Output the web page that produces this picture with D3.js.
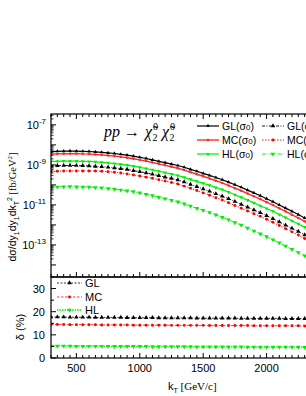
<!DOCTYPE html>
<html>
<head>
<meta charset="utf-8">
<script src="https://cdn.jsdelivr.net/npm/d3@7"></script>
<style>
body{margin:0;background:#fff}
text{font-family:"Liberation Sans",Arial,sans-serif;fill:#000}
</style>
</head>
<body>
<div id="myVis"></div>
<script>
// kT grid [GeV/c]
const kT = [300,350,400,450,500,550,600,650,700,750,800,850,900,950,1000,1050,1100,1150,1200,1250,1300,1350,1400,1450,1500,1550,1600,1650,1700,1750,1800,1850,1900,1950,2000,2050,2100,2150,2200,2250,2300,2350,2400]

// d sigma / dy dy dkT^2  [fb/GeV^2]
const glSigma0 = [4.57e-9,4.79e-9,4.90e-9,4.95e-9,4.90e-9,4.79e-9,4.68e-9,4.47e-9,4.27e-9,3.98e-9,3.72e-9,3.39e-9,3.09e-9,2.75e-9,2.40e-9,2.09e-9,1.78e-9,1.51e-9,1.29e-9,1.10e-9,9.3e-10,7.6e-10,6.0e-10,4.8e-10,3.8e-10,3.0e-10,2.34e-10,1.82e-10,1.38e-10,1.02e-10,7.6e-11,5.5e-11,4.0e-11,2.9e-11,2.04e-11,1.45e-11,1.0e-11,6.9e-12,4.8e-12,3.3e-12,2.24e-12,1.51e-12,1.02e-12]
const mcSigma0 = [3.39e-9,3.55e-9,3.63e-9,3.67e-9,3.63e-9,3.55e-9,3.47e-9,3.31e-9,3.16e-9,2.95e-9,2.75e-9,2.51e-9,2.29e-9,2.04e-9,1.78e-9,1.55e-9,1.32e-9,1.12e-9,9.5e-10,8.1e-10,6.8e-10,5.5e-10,4.3e-10,3.4e-10,2.7e-10,2.1e-10,1.62e-10,1.26e-10,9.3e-11,6.9e-11,5.1e-11,3.7e-11,2.7e-11,1.95e-11,1.38e-11,9.8e-12,6.8e-12,4.7e-12,3.2e-12,2.24e-12,1.51e-12,1.02e-12,6.9e-13]
const hlSigma0 = [1.45e-9,1.51e-9,1.55e-9,1.57e-9,1.55e-9,1.51e-9,1.48e-9,1.41e-9,1.35e-9,1.26e-9,1.17e-9,1.07e-9,9.8e-10,8.7e-10,7.6e-10,6.6e-10,5.6e-10,4.8e-10,4.1e-10,3.5e-10,2.95e-10,2.4e-10,1.9e-10,1.51e-10,1.2e-10,9.5e-11,7.4e-11,5.8e-11,4.4e-11,3.2e-11,2.4e-11,1.74e-11,1.26e-11,9.1e-12,6.6e-12,4.8e-12,3.3e-12,2.34e-12,1.62e-12,1.12e-12,7.8e-13,5.2e-13,3.5e-13]
const glSigma = [8.7e-10,9.1e-10,9.3e-10,9.4e-10,9.3e-10,9.1e-10,8.9e-10,8.5e-10,8.1e-10,7.6e-10,7.1e-10,6.5e-10,5.9e-10,5.2e-10,4.6e-10,4.0e-10,3.4e-10,2.9e-10,2.45e-10,2.1e-10,1.78e-10,1.4e-10,1.07e-10,8.2e-11,6.3e-11,4.8e-11,3.6e-11,2.75e-11,2.04e-11,1.48e-11,1.07e-11,7.8e-12,5.6e-12,4.1e-12,2.9e-12,2.04e-12,1.41e-12,9.8e-13,6.8e-13,4.7e-13,3.2e-13,2.14e-13,1.45e-13]
const mcSigma = [4.6e-10,4.8e-10,4.9e-10,5.0e-10,5.0e-10,5.0e-10,5.0e-10,4.9e-10,4.8e-10,4.6e-10,4.3e-10,3.9e-10,3.55e-10,3.16e-10,2.8e-10,2.45e-10,2.14e-10,1.82e-10,1.55e-10,1.32e-10,1.12e-10,8.7e-11,6.8e-11,5.2e-11,4.0e-11,3.05e-11,2.3e-11,1.74e-11,1.29e-11,9.3e-12,6.8e-12,5.0e-12,3.6e-12,2.7e-12,1.91e-12,1.35e-12,9.3e-13,6.5e-13,4.5e-13,3.1e-13,2.1e-13,1.41e-13,9.5e-14]
const hlSigma = [7.6e-11,7.9e-11,8.1e-11,8.2e-11,8.1e-11,7.9e-11,7.8e-11,7.4e-11,7.1e-11,6.6e-11,6.2e-11,5.6e-11,5.1e-11,4.6e-11,4.0e-11,3.4e-11,2.9e-11,2.4e-11,2.04e-11,1.7e-11,1.41e-11,1.12e-11,8.7e-12,6.8e-12,5.4e-12,4.2e-12,3.2e-12,2.4e-12,1.82e-12,1.32e-12,9.8e-13,6.9e-13,5.0e-13,3.6e-13,2.6e-13,1.82e-13,1.26e-13,8.7e-14,6.0e-14,4.2e-14,2.9e-14,1.95e-14,1.32e-14]

// delta (%)
const deltaGL = [17.7,17.7,17.7,17.6,17.6,17.6,17.6,17.5,17.5,17.5,17.5,17.5,17.4,17.4,17.4,17.4,17.4,17.3,17.3,17.3,17.3,17.3,17.3,17.2,17.2,17.2,17.2,17.2,17.2,17.2,17.1,17.1,17.1,17.1,17.1,17.1,17.1,17.0,17.0,17.0,17.0,17.0,17.0]
const deltaMC = [14.5,14.5,14.5,14.4,14.4,14.4,14.4,14.4,14.3,14.3,14.3,14.3,14.3,14.2,14.2,14.2,14.2,14.2,14.2,14.1,14.1,14.1,14.1,14.1,14.1,14.0,14.0,14.0,14.0,14.0,14.0,14.0,13.9,13.9,13.9,13.9,13.9,13.9,13.9,13.9,13.8,13.8,13.8]
const deltaHL = [5.2,5.2,5.2,5.2,5.1,5.1,5.1,5.1,5.1,5.1,5.0,5.0,5.0,5.0,5.0,5.0,4.9,4.9,4.9,4.9,4.9,4.9,4.9,4.8,4.8,4.8,4.8,4.8,4.8,4.8,4.8,4.7,4.7,4.7,4.7,4.7,4.7,4.7,4.7,4.7,4.6,4.6,4.6]

const xTicks = [500,1000,1500,2000]
const topTickExp = [-7,-9,-11,-13]
const botTicks = [0,10,20,30]

const W = 306, H = 396
const L = 51, R = 330, T = 114, MID = 277, B = 358

const svg = d3.select("#myVis").append("svg")
    .attr("width", W).attr("height", H)
    .style("background-color", "white")

const x = d3.scaleLinear().domain([300, 2500]).range([L, R])
const yTop = d3.scaleLog().domain([2.5e-15, 3.5e-7]).range([MID, T])
const yBot = d3.scaleLinear().domain([0, 35]).range([B, MID])

const red = "#ff0000", green = "#00ee00"
const topSeries = [
    {name:"GL", vals:glSigma0, color:"#000", dash:null, w:1.2, up:true, s:6, col:0, row:0},
    {name:"MC", vals:mcSigma0, color:"#ff2a2a", dash:null, w:1.4, up:null, s:5, col:0, row:1},
    {name:"HL", vals:hlSigma0, color:green, dash:null, w:1.2, up:false, s:6, col:0, row:2},
    {name:"GL", vals:glSigma, color:"#000", dash:"3,1.5,1,1.5", w:0.9, up:true, s:9, col:1, row:0},
    {name:"MC", vals:mcSigma, color:red, dash:"1.5,1.5", w:0.9, up:null, s:7, col:1, row:1},
    {name:"HL", vals:hlSigma, color:green, dash:"4,1.5,1,1.5", w:0.9, up:false, s:9, col:1, row:2}
]
const botSeries = [
    {name:"GL", vals:deltaGL, color:"#000", dash:"2,1.5", w:0.8, up:true, s:9},
    {name:"MC", vals:deltaMC, color:red, dash:"2.5,1.5", w:0.8, up:null, s:7},
    {name:"HL", vals:deltaHL, color:green, dash:"1.5,1", w:1.3, up:false, s:9}
]

const sym = (d) => {
    if (d.up === null) return d3.symbol(d3.symbolCircle, d.s)()
    return d3.symbol(d3.symbolTriangle, d.s)()
}
const rot = (d) => d.up === false ? " rotate(180)" : ""

const clip = svg.append("defs")
clip.append("clipPath").attr("id", "cTop").append("rect")
    .attr("x", L).attr("y", T).attr("width", R - L).attr("height", MID - T)
clip.append("clipPath").attr("id", "cBot").append("rect")
    .attr("x", L).attr("y", MID).attr("width", R - L).attr("height", B - MID)

const drawSeries = (s, yScale, clipId) => {
    const g = svg.append("g").attr("clip-path", "url(#" + clipId + ")")
    const pts = kT.map((k, i) => [k, s.vals[i]])
    g.append("path")
        .attr("d", d3.line().x(d => x(d[0])).y(d => yScale(d[1]))(pts))
        .attr("fill", "none").attr("stroke", s.color)
        .attr("stroke-width", s.w).attr("stroke-dasharray", s.dash)
    g.selectAll("path.m").data(pts).enter().append("path")
        .attr("class", "m")
        .attr("d", sym(s))
        .attr("transform", d => "translate(" + x(d[0]) + "," + yScale(d[1]) + ")" + rot(s))
        .attr("fill", s.color)
}
topSeries.forEach(s => drawSeries(s, yTop, "cTop"))
botSeries.forEach(s => drawSeries(s, yBot, "cBot"))

// frames
svg.append("rect").attr("x", L).attr("y", T).attr("width", R - L).attr("height", MID - T)
    .attr("fill", "none").attr("stroke", "#000").attr("stroke-width", 1.2)
svg.append("rect").attr("x", L).attr("y", MID).attr("width", R - L).attr("height", B - MID)
    .attr("fill", "none").attr("stroke", "#000").attr("stroke-width", 1.2)

// x ticks (inward) on each horizontal edge
const minorX = d3.range(300, 2501, 50)
const edges = [[T, 1], [MID, -1], [B, -1]]
edges.forEach(([yy, dir]) => {
    svg.append("g").selectAll("line").data(minorX).enter().append("line")
        .attr("x1", d => x(d)).attr("x2", d => x(d))
        .attr("y1", yy).attr("y2", d => yy + dir * (d % 500 === 0 ? 5 : 3))
        .attr("stroke", "#000").attr("stroke-width", 1)
})
svg.append("g").selectAll("text").data(xTicks).enter().append("text")
    .attr("x", d => x(d)).attr("y", B + 14)
    .attr("text-anchor", "middle").attr("font-size", 11)
    .text(d => d)

// top y axis (log)
const decades = d3.range(-14, -6)
const minorY = []
decades.forEach(e => { for (let m = 2; m <= 9; m++) minorY.push(m * Math.pow(10, e)) })
svg.append("g").selectAll("line").data(minorY.filter(v => v > 2.5e-15 && v < 3.5e-7)).enter().append("line")
    .attr("x1", L).attr("x2", L + 2.5)
    .attr("y1", d => yTop(d)).attr("y2", d => yTop(d))
    .attr("stroke", "#000").attr("stroke-width", 0.8)
svg.append("g").selectAll("line").data(decades).enter().append("line")
    .attr("x1", L).attr("x2", L + 5)
    .attr("y1", d => yTop(Math.pow(10, d))).attr("y2", d => yTop(Math.pow(10, d)))
    .attr("stroke", "#000").attr("stroke-width", 1)
const tl = svg.append("g").selectAll("text").data(topTickExp).enter().append("text")
    .attr("x", 46).attr("y", d => yTop(Math.pow(10, d)) + 4)
    .attr("text-anchor", "end").attr("font-size", 11)
tl.append("tspan").text("10")
tl.append("tspan").attr("dy", -5).attr("font-size", 8).text(d => d)

// bottom y axis
svg.append("g").selectAll("line").data([0, 5, 10, 15, 20, 25, 30, 35]).enter().append("line")
    .attr("x1", L).attr("x2", d => L + (d % 10 === 0 ? 5 : 3))
    .attr("y1", d => yBot(d)).attr("y2", d => yBot(d))
    .attr("stroke", "#000").attr("stroke-width", 1)
svg.append("g").selectAll("text").data(botTicks).enter().append("text")
    .attr("x", 45).attr("y", d => yBot(d) + 4)
    .attr("text-anchor", "end").attr("font-size", 11)
    .text(d => d)

// axis titles
const serif = "Liberation Serif, serif"
const yt = svg.append("text").attr("transform", "translate(16,207) rotate(-90)")
    .attr("text-anchor", "middle").attr("font-size", 10.5)
yt.append("tspan").text("dσ/dy")
yt.append("tspan").attr("font-size", 7).attr("dy", 2.5).text("1")
yt.append("tspan").attr("dy", -2.5).text("dy")
yt.append("tspan").attr("font-size", 7).attr("dy", 2.5).text("1")
yt.append("tspan").attr("dy", -2.5).text("dk")
yt.append("tspan").attr("font-size", 7).attr("dy", 2.5).text("T")
yt.append("tspan").attr("font-size", 7).attr("dy", -7).text("2")
yt.append("tspan").attr("dy", 4.5).attr("font-family", serif).text("  [fb/GeV")
yt.append("tspan").attr("font-size", 7).attr("dy", -4).attr("font-family", serif).text("2")
yt.append("tspan").attr("dy", 4).attr("font-family", serif).text("]")

svg.append("text").attr("transform", "translate(24,327) rotate(-90)")
    .attr("text-anchor", "middle").attr("font-size", 11).text("δ (%)")

const xt = svg.append("text").attr("x", 168).attr("y", 390).attr("font-size", 11)
xt.append("tspan").text("k")
xt.append("tspan").attr("font-size", 7).attr("dy", 2.5).text("T")
xt.append("tspan").attr("dy", -2.5).attr("font-family", serif).text(" [GeV/c]")

// process label
const pl = svg.append("text").attr("x", 104).attr("y", 137)
    .attr("font-size", 16).style("font-family", serif)
pl.append("tspan").attr("font-style", "italic").text("pp")
pl.append("tspan").text(" → ")
;[0, 1].forEach(i => {
    pl.append("tspan").attr("font-style", "italic").attr("dx", i ? 3 : 1).text("χ\u0303")
    pl.append("tspan").attr("font-size", 10).attr("dx", 1).attr("dy", -7).text("0")
    pl.append("tspan").attr("font-size", 10).attr("dx", -5.5).attr("dy", 11).text("2")
    pl.append("tspan").attr("dy", -4).text("\u200a")
})

// top legend
const lgX = [197, 262]
const lgY = [126, 140, 154]
topSeries.forEach(s => {
    const x0 = lgX[s.col], yy = lgY[s.row]
    svg.append("line").attr("x1", x0).attr("x2", x0 + 22).attr("y1", yy).attr("y2", yy)
        .attr("stroke", s.color).attr("stroke-width", s.w).attr("stroke-dasharray", s.dash)
    svg.append("path").attr("d", sym(s))
        .attr("transform", "translate(" + (x0 + 11) + "," + yy + ")" + rot(s))
        .attr("fill", s.color)
    const t = svg.append("text").attr("x", x0 + 25).attr("y", yy + 4).attr("font-size", 10.5)
    t.append("tspan").text(s.name + "(σ")
    t.append("tspan").attr("font-size", 8).text("0")
    t.append("tspan").text(")")
})

// bottom legend
botSeries.forEach((s, i) => {
    const yy = [283, 297, 310][i]
    svg.append("line").attr("x1", 57).attr("x2", 82).attr("y1", yy).attr("y2", yy)
        .attr("stroke", s.color).attr("stroke-width", s.w).attr("stroke-dasharray", s.dash)
    svg.append("path").attr("d", sym(s))
        .attr("transform", "translate(69.5," + yy + ")" + rot(s))
        .attr("fill", s.color)
    svg.append("text").attr("x", 85).attr("y", yy + 4).attr("font-size", 11).text(s.name)
})
</script>
</body>
</html>
